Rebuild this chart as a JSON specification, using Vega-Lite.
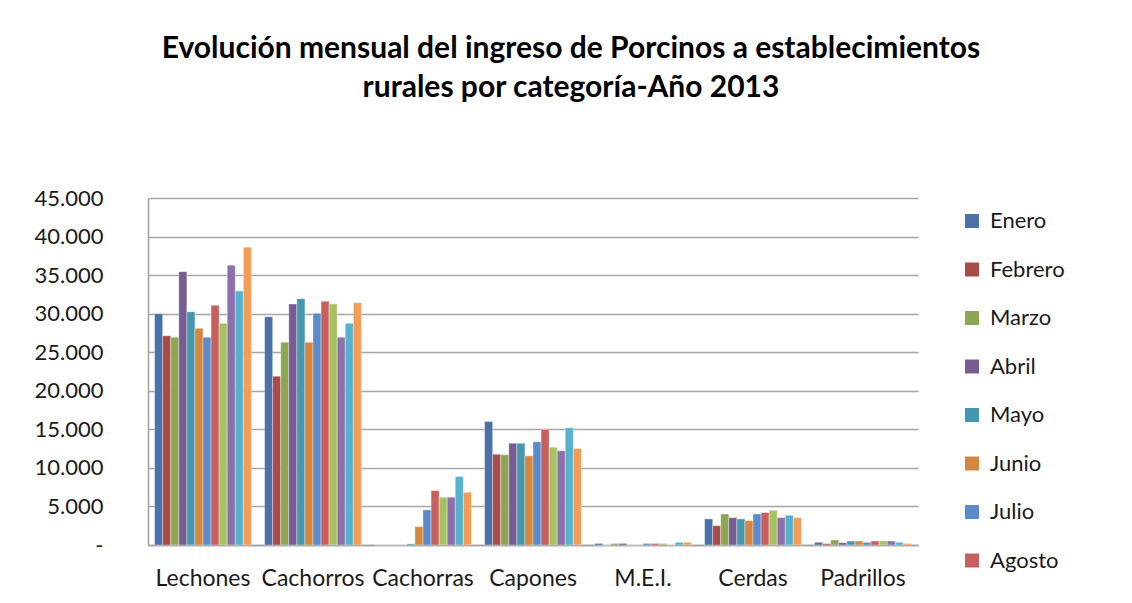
{
  "$schema": "https://vega.github.io/schema/vega-lite/v6.json",
  "autosize": {"type": "none"},
  "width": 770,
  "height": 347,
  "padding": {"left": 148, "top": 198, "right": 214, "bottom": 58},
  "background": "white",
  "title": {
    "text": ["Evolución mensual del ingreso de Porcinos a establecimientos", "rurales por categoría-Año 2013"],
    "font": "Lato",
    "fontSize": 30,
    "fontWeight": "bold",
    "color": "#000000",
    "lineHeight": 39,
    "anchor": "middle",
    "frame": "group",
    "dx": 38,
    "offset": 84
  },
  "data": {
    "values": [
      {"categoria": "Lechones", "mes": "Enero", "valor": 30000},
      {"categoria": "Lechones", "mes": "Febrero", "valor": 27150},
      {"categoria": "Lechones", "mes": "Marzo", "valor": 26930},
      {"categoria": "Lechones", "mes": "Abril", "valor": 35450},
      {"categoria": "Lechones", "mes": "Mayo", "valor": 30260},
      {"categoria": "Lechones", "mes": "Junio", "valor": 28100},
      {"categoria": "Lechones", "mes": "Julio", "valor": 26930},
      {"categoria": "Lechones", "mes": "Agosto", "valor": 31080},
      {"categoria": "Lechones", "mes": "Septiembre", "valor": 28750},
      {"categoria": "Lechones", "mes": "Octubre", "valor": 36280},
      {"categoria": "Lechones", "mes": "Noviembre", "valor": 32940},
      {"categoria": "Lechones", "mes": "Diciembre", "valor": 38620},
      {"categoria": "Cachorros", "mes": "Enero", "valor": 29610},
      {"categoria": "Cachorros", "mes": "Febrero", "valor": 21900},
      {"categoria": "Cachorros", "mes": "Marzo", "valor": 26280},
      {"categoria": "Cachorros", "mes": "Abril", "valor": 31250},
      {"categoria": "Cachorros", "mes": "Mayo", "valor": 31950},
      {"categoria": "Cachorros", "mes": "Junio", "valor": 26280},
      {"categoria": "Cachorros", "mes": "Julio", "valor": 30040},
      {"categoria": "Cachorros", "mes": "Agosto", "valor": 31600},
      {"categoria": "Cachorros", "mes": "Septiembre", "valor": 31250},
      {"categoria": "Cachorros", "mes": "Octubre", "valor": 26930},
      {"categoria": "Cachorros", "mes": "Noviembre", "valor": 28750},
      {"categoria": "Cachorros", "mes": "Diciembre", "valor": 31430},
      {"categoria": "Cachorras", "mes": "Enero", "valor": 0},
      {"categoria": "Cachorras", "mes": "Febrero", "valor": 0},
      {"categoria": "Cachorras", "mes": "Marzo", "valor": 0},
      {"categoria": "Cachorras", "mes": "Abril", "valor": 0},
      {"categoria": "Cachorras", "mes": "Mayo", "valor": 150},
      {"categoria": "Cachorras", "mes": "Junio", "valor": 2380},
      {"categoria": "Cachorras", "mes": "Julio", "valor": 4550},
      {"categoria": "Cachorras", "mes": "Agosto", "valor": 7050},
      {"categoria": "Cachorras", "mes": "Septiembre", "valor": 6190},
      {"categoria": "Cachorras", "mes": "Octubre", "valor": 6190},
      {"categoria": "Cachorras", "mes": "Noviembre", "valor": 8870},
      {"categoria": "Cachorras", "mes": "Diciembre", "valor": 6840},
      {"categoria": "Capones", "mes": "Enero", "valor": 16020},
      {"categoria": "Capones", "mes": "Febrero", "valor": 11780},
      {"categoria": "Capones", "mes": "Marzo", "valor": 11690},
      {"categoria": "Capones", "mes": "Abril", "valor": 13200},
      {"categoria": "Capones", "mes": "Mayo", "valor": 13200},
      {"categoria": "Capones", "mes": "Junio", "valor": 11560},
      {"categoria": "Capones", "mes": "Julio", "valor": 13380},
      {"categoria": "Capones", "mes": "Agosto", "valor": 14980},
      {"categoria": "Capones", "mes": "Septiembre", "valor": 12680},
      {"categoria": "Capones", "mes": "Octubre", "valor": 12210},
      {"categoria": "Capones", "mes": "Noviembre", "valor": 15200},
      {"categoria": "Capones", "mes": "Diciembre", "valor": 12510},
      {"categoria": "M.E.I.", "mes": "Enero", "valor": 200},
      {"categoria": "M.E.I.", "mes": "Febrero", "valor": 0},
      {"categoria": "M.E.I.", "mes": "Marzo", "valor": 200},
      {"categoria": "M.E.I.", "mes": "Abril", "valor": 200},
      {"categoria": "M.E.I.", "mes": "Mayo", "valor": 0},
      {"categoria": "M.E.I.", "mes": "Junio", "valor": 0},
      {"categoria": "M.E.I.", "mes": "Julio", "valor": 200},
      {"categoria": "M.E.I.", "mes": "Agosto", "valor": 200},
      {"categoria": "M.E.I.", "mes": "Septiembre", "valor": 200},
      {"categoria": "M.E.I.", "mes": "Octubre", "valor": 0},
      {"categoria": "M.E.I.", "mes": "Noviembre", "valor": 350},
      {"categoria": "M.E.I.", "mes": "Diciembre", "valor": 350},
      {"categoria": "Cerdas", "mes": "Enero", "valor": 3380},
      {"categoria": "Cerdas", "mes": "Febrero", "valor": 2510},
      {"categoria": "Cerdas", "mes": "Marzo", "valor": 4030},
      {"categoria": "Cerdas", "mes": "Abril", "valor": 3550},
      {"categoria": "Cerdas", "mes": "Mayo", "valor": 3380},
      {"categoria": "Cerdas", "mes": "Junio", "valor": 3160},
      {"categoria": "Cerdas", "mes": "Julio", "valor": 4030},
      {"categoria": "Cerdas", "mes": "Agosto", "valor": 4200},
      {"categoria": "Cerdas", "mes": "Septiembre", "valor": 4500},
      {"categoria": "Cerdas", "mes": "Octubre", "valor": 3550},
      {"categoria": "Cerdas", "mes": "Noviembre", "valor": 3850},
      {"categoria": "Cerdas", "mes": "Diciembre", "valor": 3550},
      {"categoria": "Padrillos", "mes": "Enero", "valor": 350},
      {"categoria": "Padrillos", "mes": "Febrero", "valor": 170},
      {"categoria": "Padrillos", "mes": "Marzo", "valor": 650},
      {"categoria": "Padrillos", "mes": "Abril", "valor": 300},
      {"categoria": "Padrillos", "mes": "Mayo", "valor": 520},
      {"categoria": "Padrillos", "mes": "Junio", "valor": 520},
      {"categoria": "Padrillos", "mes": "Julio", "valor": 350},
      {"categoria": "Padrillos", "mes": "Agosto", "valor": 520},
      {"categoria": "Padrillos", "mes": "Septiembre", "valor": 520},
      {"categoria": "Padrillos", "mes": "Octubre", "valor": 520},
      {"categoria": "Padrillos", "mes": "Noviembre", "valor": 350},
      {"categoria": "Padrillos", "mes": "Diciembre", "valor": 200}
    ]
  },
  "mark": {"type": "bar", "stroke": "#ffffff", "strokeOpacity": 0.45, "strokeWidth": 0.8},
  "encoding": {
    "x": {
      "field": "categoria",
      "type": "nominal",
      "sort": ["Lechones", "Cachorros", "Cachorras", "Capones", "M.E.I.", "Cerdas", "Padrillos"],
      "scale": {"paddingInner": 0.12, "paddingOuter": 0.06},
      "axis": {
        "title": null,
        "labelAngle": 0,
        "labelFont": "Lato",
        "labelFontSize": 23,
        "labelColor": "#1a1a1a",
        "labelPadding": 22,
        "ticks": false,
        "domainColor": "#a0a0a0",
        "domainWidth": 1.5,
        "labelOverlap": false
      }
    },
    "xOffset": {
      "field": "mes",
      "type": "nominal",
      "sort": ["Enero", "Febrero", "Marzo", "Abril", "Mayo", "Junio", "Julio", "Agosto", "Septiembre", "Octubre", "Noviembre", "Diciembre"],
      "scale": {"paddingInner": 0, "paddingOuter": 0}
    },
    "y": {
      "field": "valor",
      "type": "quantitative",
      "scale": {"domain": [0, 45000], "nice": false},
      "axis": {
        "title": null,
        "values": [0, 5000, 10000, 15000, 20000, 25000, 30000, 35000, 40000, 45000],
        "labelExpr": "datum.value == 0 ? '-\u00a0\u00a0\u00a0' : replace(format(datum.value, ','), ',', '.')",
        "labelFont": "Lato",
        "labelFontSize": 22,
        "labelColor": "#1a1a1a",
        "labelPadding": 45,
        "ticks": false,
        "domainColor": "#a0a0a0",
        "domainWidth": 1.5,
        "gridColor": "#a6a6a6",
        "gridWidth": 1.5
      }
    },
    "color": {
      "field": "mes",
      "type": "nominal",
      "scale": {
        "domain": ["Enero", "Febrero", "Marzo", "Abril", "Mayo", "Junio", "Julio", "Agosto", "Septiembre", "Octubre", "Noviembre", "Diciembre"],
        "range": ["#4a72a8", "#a84b49", "#8ca654", "#765c93", "#4597ae", "#d5873f", "#5b8bcb", "#c95f5c", "#a7c263", "#8d70ab", "#57b3cd", "#f59d56"]
      },
      "legend": {
        "title": null,
        "orient": "none",
        "legendX": 813,
        "legendY": 12,
        "values": ["Enero", "Febrero", "Marzo", "Abril", "Mayo", "Junio", "Julio", "Agosto"],
        "symbolType": "square",
        "symbolSize": 196,
        "symbolStrokeWidth": 0,
        "symbolOpacity": 1,
        "labelFont": "Lato",
        "labelFontSize": 22,
        "labelColor": "#1a1a1a",
        "labelOffset": 7,
        "rowPadding": 26.5,
        "labelLimit": 300
      }
    }
  },
  "config": {
    "view": {"stroke": null}
  }
}
